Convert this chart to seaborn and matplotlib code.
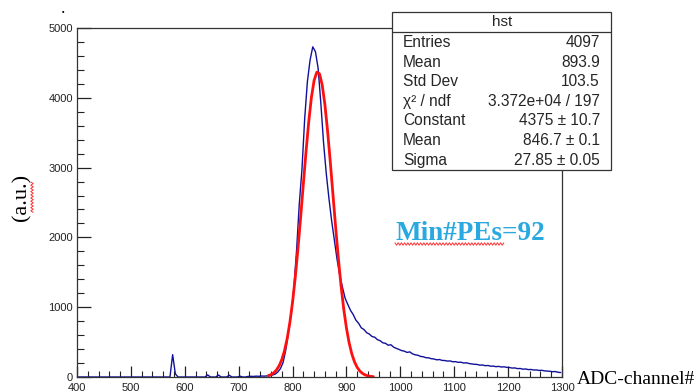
import numpy as np
import pandas as pd
import matplotlib
matplotlib.use("Agg")
import matplotlib.pyplot as plt
from matplotlib.patches import Rectangle
from matplotlib.lines import Line2D
import seaborn as sns

# blue spectrum: 5-channel bins from 400 to 1300
bin_edges = np.arange(400, 1301, 5)
counts = [
    0, 0, 0, 0, 0, 0, 0, 0, 0, 0, 0, 0, 0, 0, 0, 0, 0, 0, 0, 0,          # 400-495
    0, 0, 0, 0, 0, 0, 0, 0, 0, 0, 0, 0, 0, 0, 0, 320, 45, 0, 0, 0,       # 500-595
    0, 0, 0, 0, 0, 0, 0, 0, 30, 0, 0, 0, 28, 0, 0, 0, 25, 0, 0, 0,       # 600-695
    12, 0, 0, 8, 10, 8, 12, 10, 14, 12, 16, 20, 28, 40, 70, 120, 210, 390, 640, 900,  # 700-795
    1280, 1820, 2480, 2980, 3700, 4230, 4540, 4730, 4660, 4420,
    3920, 3360, 2920, 2560, 2240, 1960, 1690, 1460, 1290, 1130,         # 800-895
    1040, 955, 895, 815, 770, 705, 680, 635, 615, 580,
    570, 535, 520, 490, 482, 455, 462, 428, 410, 395,                   # 900-995
    378, 370, 352, 360, 332, 318, 312, 295, 290, 276,
    275, 262, 258, 246, 250, 238, 236, 228, 230, 218,                   # 1000-1095
    220, 210, 212, 200, 204, 193, 188, 182, 180, 170,
    172, 162, 165, 155, 156, 148, 152, 143, 146, 138,                   # 1100-1195
    136, 128, 130, 120, 122, 112, 115, 106, 108, 100,
    101, 94, 96, 88, 85, 82, 76, 78, 68, 64,                            # 1200-1295
]
bin_centers = bin_edges[:-1] + 2.5

# red fit curve
fit_x = np.arange(755, 951, 5)
fit_y = [19, 34, 59, 99, 159, 248, 376, 550, 781, 1072,
         1426, 1836, 2288, 2763, 3229, 3655, 4005, 4250, 4367, 4344,
         4185, 3903, 3525, 3083, 2611, 2141, 1699, 1306, 972, 701,
         489, 330, 216, 137, 84, 50, 29, 16, 9, 5]

stats_title = "hst"
stats_names = ["Entries", "Mean", "Std Dev", "\u03c7\u00b2 / ndf", "Constant", "Mean", "Sigma"]
stats_values = ["4097", "893.9", "103.5", "3.372e+04 / 197",
                "4375 \u00b1 10.7", "846.7 \u00b1 0.1", "27.85 \u00b1 0.05"]

W, H = 696, 392

sns.set_theme(style="ticks")
plt.rcParams["font.family"] = ["Liberation Sans", "DejaVu Sans"]

fig = plt.figure(figsize=(W / 100, H / 100), dpi=100)
fig.patch.set_facecolor("white")


def fx(px):
    return px / W


def fy(py):
    return 1 - py / H


ax = fig.add_axes([fx(77), fy(377), fx(562) - fx(77), fy(28) - fy(377)])

hist_df = pd.DataFrame({"adc": bin_centers, "counts": counts})
sns.lineplot(data=hist_df, x="adc", y="counts", color="#10109a", linewidth=1.0, ax=ax)
sns.lineplot(x=fit_x, y=fit_y, color="#ff1010", linewidth=2.0, ax=ax)

ax.set_xlim(400, 1300)
ax.set_ylim(0, 5000)
ax.set_xticks(np.arange(400, 1301, 100))
ax.set_xticks(np.arange(400, 1301, 20), minor=True)
ax.set_yticks(np.arange(0, 5001, 1000))
ax.set_yticks(np.arange(0, 5001, 200), minor=True)
ax.set_xlabel("")
ax.set_ylabel("")
ax.tick_params(axis="x", which="major", direction="in", length=8, width=0.9,
               pad=4.5, labelsize=8, colors="#222222")
ax.tick_params(axis="x", which="minor", direction="in", length=4, width=0.8, color="#222222")
ax.tick_params(axis="y", which="major", direction="in", length=10, width=0.9,
               pad=3, labelsize=8, colors="#222222")
ax.tick_params(axis="y", which="minor", direction="in", length=5, width=0.8, color="#222222")
for s in ax.spines.values():
    s.set_visible(True)
    s.set_linewidth(0.9)
    s.set_color("#333333")

# stats box
box = Rectangle((fx(392), fy(170)), fx(611) - fx(392), fy(12) - fy(170),
                transform=fig.transFigure, facecolor="white", edgecolor="#333333",
                linewidth=0.9, zorder=5)
fig.add_artist(box)
fig.add_artist(Line2D([fx(392), fx(611)], [fy(32), fy(32)], transform=fig.transFigure,
                      color="#333333", linewidth=0.9, zorder=6))
fig.text(fx(502), fy(22), stats_title, ha="center", va="center", fontsize=11, zorder=7)
for i, (n, v) in enumerate(zip(stats_names, stats_values)):
    y = fy(42.5 + i * 19.6)
    fig.text(fx(403), y, n, ha="left", va="center", fontsize=11.2, zorder=7)
    fig.text(fx(600), y, v, ha="right", va="center", fontsize=11.2, zorder=7)

# annotations
serif = ["Liberation Serif", "DejaVu Serif"]
fig.text(fx(395), fy(239.5), "Min#PEs=92", ha="left", va="baseline", fontsize=19.5,
         fontweight="bold", color="#2aa8e0", family=serif)
fig.text(fx(577), fy(384), "ADC-channel#", ha="left", va="baseline", fontsize=14,
         color="black", family=serif)
fig.text(fx(22), fy(197), "(a.u.)", ha="center", va="center", rotation=90,
         fontsize=16, color="black", family=serif)
fig.text(fx(63), fy(12), "\u25aa", ha="center", va="center", fontsize=5, color="black")


# spell-check squiggles
def squiggle(x0, x1, y0, vertical=False):
    t = np.arange(x0, x1 + 0.1, 1.6)
    w = np.where(np.arange(len(t)) % 2 == 0, -1.2, 1.2)
    if vertical:
        xs, ys = fx(y0 + w), fy(t)
    else:
        xs, ys = fx(t), fy(y0 + w)
    fig.add_artist(Line2D(xs, ys, transform=fig.transFigure, color="#ff3030", linewidth=0.7))


squiggle(395, 505, 244)
squiggle(182, 213, 32, vertical=True)

fig.savefig("out.png", dpi=100)
